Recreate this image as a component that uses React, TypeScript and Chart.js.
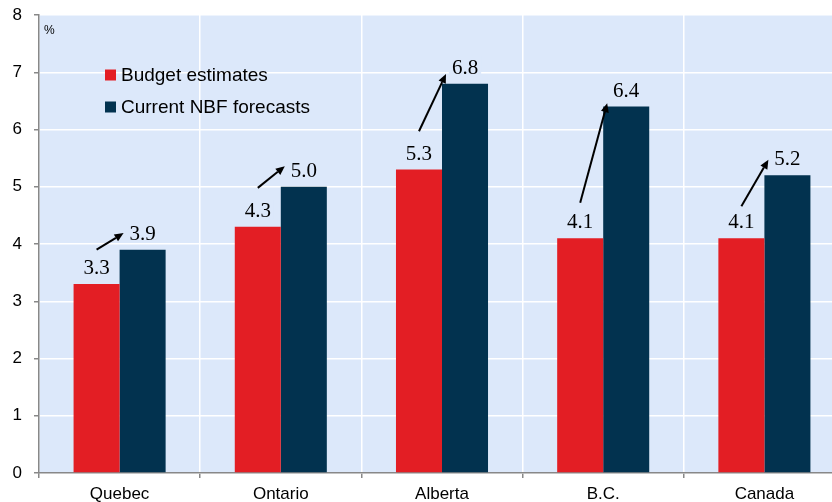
import React, { useEffect, useRef } from "react";
import { Chart, registerables } from "chart.js";

Chart.register(...registerables);

const categories = ["Quebec", "Ontario", "Alberta", "B.C.", "Canada"];
const seriesNames = ["Budget estimates", "Current NBF forecasts"];
const budgetEstimates = [3.3, 4.3, 5.3, 4.1, 4.1];
const nbfForecasts = [3.9, 5.0, 6.8, 6.4, 5.2];
const valueLabels = [
  ["3.3", "4.3", "5.3", "4.1", "4.1"],
  ["3.9", "5.0", "6.8", "6.4", "5.2"],
];
// arrow annotations (value units): tail and head heights
const arrowFrom = [3.9, 4.98, 5.97, 4.72, 4.66];
const arrowTo = [4.19, 5.36, 6.97, 6.46, 5.47];
const yMin = 0;
const yMax = 8;
const yStep = 1;
const unitLabel = "%";

const colors = ["#E31E24", "#02324F"];
const plotBg = "#DCE8FA";

const overlay = {
  id: "overlay",
  beforeDraw(chart: any) {
    const { ctx, chartArea } = chart;
    ctx.save();
    ctx.fillStyle = plotBg;
    ctx.fillRect(chartArea.left, chartArea.top, chartArea.right - chartArea.left, chartArea.bottom - chartArea.top);
    ctx.restore();
  },
  afterDatasetsDraw(chart: any) {
    const { ctx, chartArea } = chart;
    const yScale = chart.scales.y;
    const m0 = chart.getDatasetMeta(0);
    const m1 = chart.getDatasetMeta(1);
    ctx.save();
    // value labels
    ctx.font = "21px 'Liberation Serif', 'Times New Roman', serif";
    ctx.textAlign = "center";
    ctx.textBaseline = "alphabetic";
    [m0, m1].forEach((meta: any, di: number) => {
      meta.data.forEach((bar: any, i: number) => {
        const txt = valueLabels[di][i];
        const w = ctx.measureText(txt).width;
        const by = bar.y - 10;
        ctx.fillStyle = plotBg;
        ctx.fillRect(bar.x - w / 2 - 3, by - 17, w + 6, 20);
        ctx.fillStyle = "#000";
        ctx.fillText(txt, bar.x, by);
      });
    });
    // arrows
    ctx.strokeStyle = "#000";
    ctx.fillStyle = "#000";
    ctx.lineWidth = 2;
    m0.data.forEach((bar: any, i: number) => {
      const nb = m1.data[i];
      const x1 = bar.x;
      const y1 = yScale.getPixelForValue(arrowFrom[i]);
      const x2 = nb.x - nb.width / 2 + 4;
      const y2 = yScale.getPixelForValue(arrowTo[i]);
      const ang = Math.atan2(y2 - y1, x2 - x1);
      const hl = 9;
      const hw = 4;
      const bx = x2 - hl * Math.cos(ang);
      const byy = y2 - hl * Math.sin(ang);
      ctx.beginPath();
      ctx.moveTo(x1, y1);
      ctx.lineTo(bx, byy);
      ctx.stroke();
      ctx.beginPath();
      ctx.moveTo(x2, y2);
      ctx.lineTo(bx + hw * Math.sin(ang), byy - hw * Math.cos(ang));
      ctx.lineTo(bx - hw * Math.sin(ang), byy + hw * Math.cos(ang));
      ctx.closePath();
      ctx.fill();
    });
    // unit label
    ctx.font = "12px 'Liberation Sans', Arial, sans-serif";
    ctx.textAlign = "left";
    ctx.textBaseline = "middle";
    ctx.fillStyle = "#000";
    ctx.fillText(unitLabel, chartArea.left + 5, chartArea.top + 16);
    // legend
    ctx.font = "19px 'Liberation Sans', Arial, sans-serif";
    seriesNames.forEach((name, i) => {
      const ly = chartArea.top + 60 + i * 32;
      const lx = chartArea.left + 66;
      ctx.fillStyle = colors[i];
      ctx.fillRect(lx, ly - 5.5, 11, 11);
      ctx.fillStyle = "#000";
      ctx.fillText(name, lx + 16, ly + 1);
    });
    ctx.restore();
  },
};

export default function App() {
  const ref = useRef<HTMLCanvasElement | null>(null);
  useEffect(() => {
    document.body.style.margin = "0";
    const canvas = ref.current!;
    const chart = new Chart(canvas, {
      type: "bar",
      data: {
        labels: categories,
        datasets: [
          {
            label: seriesNames[0],
            data: budgetEstimates,
            backgroundColor: colors[0],
            categoryPercentage: 0.571,
            barPercentage: 1,
          },
          {
            label: seriesNames[1],
            data: nbfForecasts,
            backgroundColor: colors[1],
            categoryPercentage: 0.571,
            barPercentage: 1,
          },
        ],
      },
      options: {
        animation: false,
        responsive: false,
        maintainAspectRatio: false,
        layout: { padding: { top: 15, right: 0, left: 0, bottom: 0 } },
        plugins: { legend: { display: false }, tooltip: { enabled: false } },
        scales: {
          x: {
            grid: {
              offset: true,
              color: "#FFFFFF",
              lineWidth: 1.5,
              drawTicks: true,
              tickLength: 5,
              tickColor: "#888888",
            },
            border: { display: true, color: "#888888", width: 1.5 },
            ticks: {
              color: "#000",
              padding: 6,
              font: { family: "'Liberation Sans', Arial, sans-serif", size: 17 },
            },
            afterFit(scale: any) {
              scale.height = 29;
              scale.paddingLeft = 0;
              scale.paddingRight = 0;
            },
          },
          y: {
            min: yMin,
            max: yMax,
            ticks: {
              stepSize: yStep,
              color: "#000",
              padding: 12,
              font: { family: "'Liberation Sans', Arial, sans-serif", size: 17 },
            },
            grid: {
              color: "#FFFFFF",
              lineWidth: 1.5,
              drawTicks: true,
              tickLength: 5,
              tickColor: "#888888",
            },
            border: { display: true, color: "#888888", width: 1.5 },
            afterFit(scale: any) {
              scale.width = 39;
              scale.paddingTop = 0;
              scale.paddingBottom = 0;
            },
          },
        },
      },
      plugins: [overlay],
    });
    return () => chart.destroy();
  }, []);
  return (
    <div style={{ position: "fixed", left: 0, top: 0, width: 832, height: 502, overflow: "hidden", background: "#fff" }}>
      <canvas ref={ref} width={845} height={502} style={{ display: "block", width: 845, height: 502 }} />
    </div>
  );
}
